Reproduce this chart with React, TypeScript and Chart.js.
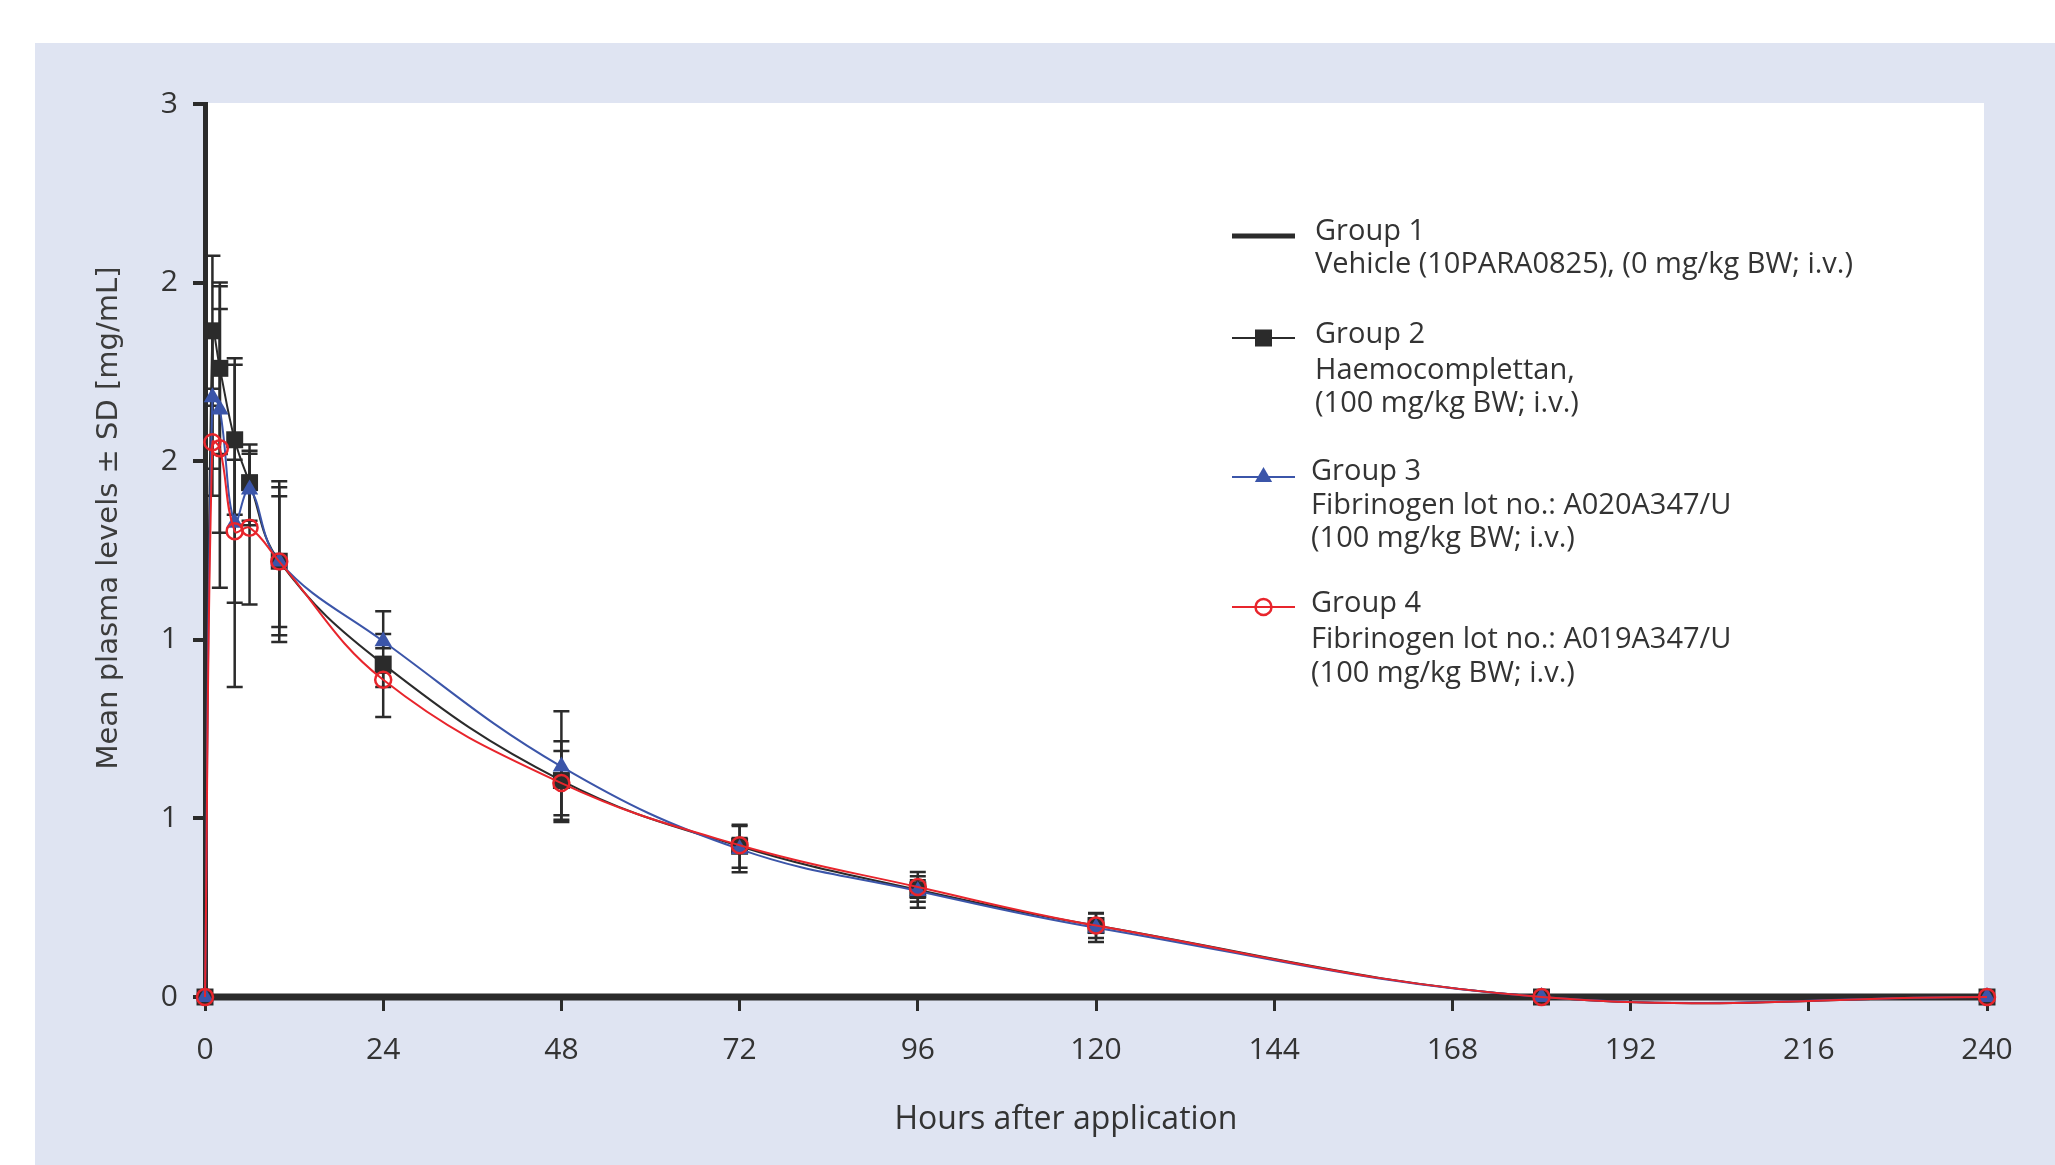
import React, { useEffect, useRef } from 'react';
import { Chart, registerables } from 'chart.js';

Chart.register(...registerables);

// ---- data ----
const hours = [0, 1, 2, 4, 6, 10, 24, 48, 72, 96, 120, 180, 240];
const group1 = [0, 0, 0, 0, 0, 0, 0, 0, 0, 0, 0, 0, 0];
const group2 = [0, 1.865, 1.76, 1.56, 1.44, 1.22, 0.932, 0.606, 0.422, 0.3, 0.2, 0, 0];
const group3 = [0, 1.679, 1.645, 1.328, 1.421, 1.219, 0.996, 0.645, 0.414, 0.297, 0.194, 0, 0];
const group4 = [0, 1.553, 1.536, 1.304, 1.314, 1.219, 0.888, 0.599, 0.425, 0.308, 0.2, 0, 0];
const sd2 = [0, 0.21, 0.24, 0.21, 0.107, 0.207, 0.148, 0.11, 0.06, 0.05, 0.035, 0, 0];
const sd3 = [0, 0.2, 0.345, 0.46, 0.1, 0.225, 0.02, 0.155, 0.065, 0.03, 0.04, 0, 0];
const sd4 = [0, 0.15, 0.39, 0.2, 0.215, 0.183, 0.02, 0.09, 0.02, 0.03, 0.02, 0, 0];

const xTickStep = 24;
const yTickStep = 0.5;
const xTitle = 'Hours after application';
const yTitle = 'Mean plasma levels \u00b1 SD [mg/mL]';

const legendEntries = [
  ['Group 1', 'Vehicle (10PARA0825), (0 mg/kg BW; i.v.)'],
  ['Group 2', 'Haemocomplettan,', '(100 mg/kg BW; i.v.)'],
  ['Group 3', 'Fibrinogen lot no.: A020A347/U', '(100 mg/kg BW; i.v.)'],
  ['Group 4', 'Fibrinogen lot no.: A019A347/U', '(100 mg/kg BW; i.v.)'],
];

// ---- styles ----
const BLACK = '#2b2b2b';
const BLUE = '#3b55a9';
const RED = '#e8252c';
const TEXT = '#333333';
const PANEL = '#dfe4f2';
const FONT = "'Open Sans', 'Noto Sans', sans-serif";

const toPoints = (vals: number[]) => hours.map((h, i) => ({ x: h, y: vals[i] }));

const panelPlugin = {
  id: 'panelBg',
  beforeDraw(chart: any) {
    const { ctx, chartArea: a, width, height } = chart;
    ctx.save();
    ctx.fillStyle = '#ffffff';
    ctx.fillRect(0, 0, width, height);
    ctx.fillStyle = PANEL;
    ctx.fillRect(35, 43, width - 35, height - 43);
    ctx.fillStyle = '#ffffff';
    ctx.fillRect(a.left, a.top - 1, a.right - a.left - 3, a.bottom - a.top + 1);
    ctx.restore();
  },
};

const errorBarPlugin = {
  id: 'errorBars',
  beforeDatasetsDraw(chart: any) {
    const { ctx } = chart;
    const xs = chart.scales.x;
    const ys = chart.scales.y;
    const sets: [number[], number[]][] = [
      [group2, sd2],
      [group3, sd3],
      [group4, sd4],
    ];
    ctx.save();
    ctx.strokeStyle = BLACK;
    ctx.lineWidth = 2.5;
    const cap = 8;
    sets.forEach(([vals, sds]) => {
      vals.forEach((v, i) => {
        const sd = sds[i];
        if (!sd) return;
        const x = xs.getPixelForValue(hours[i]);
        const yt = ys.getPixelForValue(v + sd);
        const yb = ys.getPixelForValue(v - sd);
        ctx.beginPath();
        ctx.moveTo(x, yt);
        ctx.lineTo(x, yb);
        ctx.moveTo(x - cap, yt);
        ctx.lineTo(x + cap, yt);
        ctx.moveTo(x - cap, yb);
        ctx.lineTo(x + cap, yb);
        ctx.stroke();
      });
    });
    ctx.restore();
  },
};

function drawMarker(ctx: CanvasRenderingContext2D, kind: string, x: number, y: number) {
  ctx.save();
  if (kind === 'rect') {
    ctx.fillStyle = BLACK;
    ctx.fillRect(x - 8.5, y - 8.5, 17, 17);
  } else if (kind === 'triangle') {
    const r = 10;
    ctx.fillStyle = BLUE;
    ctx.beginPath();
    ctx.moveTo(x, y - r);
    ctx.lineTo(x + r * 0.866, y + r / 2);
    ctx.lineTo(x - r * 0.866, y + r / 2);
    ctx.closePath();
    ctx.fill();
  } else if (kind === 'circle') {
    ctx.strokeStyle = RED;
    ctx.lineWidth = 2.5;
    ctx.beginPath();
    ctx.arc(x, y, 8, 0, Math.PI * 2);
    ctx.stroke();
  }
  ctx.restore();
}

const textPlugin = {
  id: 'texts',
  afterDraw(chart: any) {
    const { ctx } = chart;
    ctx.save();
    // axis titles
    ctx.fillStyle = TEXT;
    ctx.textAlign = 'center';
    ctx.textBaseline = 'middle';
    ctx.font = `32px ${FONT}`;
    ctx.fillText(xTitle, 1066, 1120);
    ctx.save();
    ctx.translate(109, 518);
    ctx.rotate(-Math.PI / 2);
    ctx.font = "29px 'DejaVu Sans', sans-serif";
    ctx.fillStyle = '#3c3c3c';
    ctx.fillText(yTitle, 0, 0);
    ctx.restore();

    // legend
    const lineYs = [236, 338, 477, 607];
    const textX = [1315, 1315, 1311, 1311];
    const textYs = [
      [232, 265],
      [335, 371, 404],
      [472, 506, 539],
      [604, 640, 674],
    ];
    const colors = [BLACK, BLACK, BLUE, RED];
    const widths = [5, 2, 2, 2];
    const markers = ['', 'rect', 'triangle', 'circle'];
    legendEntries.forEach((lines, i) => {
      ctx.strokeStyle = colors[i];
      ctx.lineWidth = widths[i];
      ctx.beginPath();
      ctx.moveTo(1232, lineYs[i]);
      ctx.lineTo(1295, lineYs[i]);
      ctx.stroke();
      if (markers[i]) drawMarker(ctx, markers[i], 1263.5, lineYs[i]);
      ctx.fillStyle = TEXT;
      ctx.font = `29px ${FONT}`;
      ctx.textAlign = 'left';
      ctx.textBaseline = 'middle';
      lines.forEach((t, j) => ctx.fillText(t, textX[i], textYs[i][j]));
    });
    ctx.restore();
  },
};

export default function App() {
  const ref = useRef<HTMLCanvasElement>(null);
  useEffect(() => {
    const canvas = ref.current;
    if (!canvas) return;
    const chart = new Chart(canvas, {
      type: 'line',
      data: {
        datasets: [
          {
            label: 'Group 1',
            data: toPoints(group1),
            borderColor: BLACK,
            borderWidth: 7,
            pointRadius: 0,
            tension: 0,
            order: 4,
            clip: false,
          },
          {
            label: 'Group 2',
            data: toPoints(group2),
            borderColor: BLACK,
            backgroundColor: BLACK,
            borderWidth: 2,
            pointStyle: 'rect',
            pointRadius: 12,
            pointBackgroundColor: BLACK,
            pointBorderColor: BLACK,
            pointBorderWidth: 0,
            tension: 0.4,
            order: 3,
            clip: false,
          },
          {
            label: 'Group 3',
            data: toPoints(group3),
            borderColor: BLUE,
            backgroundColor: BLUE,
            borderWidth: 2,
            pointStyle: 'triangle',
            pointRadius: 10,
            pointBackgroundColor: BLUE,
            pointBorderColor: BLUE,
            pointBorderWidth: 0,
            tension: 0.4,
            order: 2,
            clip: false,
          },
          {
            label: 'Group 4',
            data: toPoints(group4),
            borderColor: RED,
            backgroundColor: 'rgba(0,0,0,0)',
            borderWidth: 2,
            pointStyle: 'circle',
            pointRadius: 8,
            pointBackgroundColor: 'rgba(0,0,0,0)',
            pointBorderColor: RED,
            pointBorderWidth: 2.5,
            tension: 0.4,
            order: 1,
            clip: false,
          },
        ],
      },
      options: {
        responsive: false,
        animation: false,
        devicePixelRatio: 1,
        layout: { padding: { left: 0, top: 104, right: 68, bottom: 0 } },
        elements: { line: { capBezierPoints: false } },
        plugins: {
          legend: { display: false },
          tooltip: { enabled: false },
        },
        scales: {
          x: {
            type: 'linear',
            min: 0,
            max: 240,
            afterFit: (s: any) => {
              s.height = 168;
            },
            ticks: {
              stepSize: xTickStep,
              autoSkip: false,
              maxRotation: 0,
              padding: 21,
              color: TEXT,
              font: { family: FONT, size: 30 },
            },
            grid: {
              drawOnChartArea: false,
              tickLength: 14,
              tickWidth: 3,
              lineWidth: 3,
              tickColor: BLACK,
              color: BLACK,
            },
            border: { color: BLACK, width: 4 },
          },
          y: {
            type: 'linear',
            min: 0,
            max: 2.5,
            afterFit: (s: any) => {
              s.width = 205;
            },
            ticks: {
              stepSize: yTickStep,
              padding: 15,
              color: TEXT,
              font: { family: FONT, size: 30 },
              callback: (v: any) => String(Math.round(Number(v))),
            },
            grid: {
              drawOnChartArea: false,
              tickLength: 12,
              tickWidth: 4,
              lineWidth: 4,
              tickColor: BLACK,
              color: BLACK,
            },
            border: { color: BLACK, width: 5 },
          },
        },
      },
      plugins: [panelPlugin, errorBarPlugin, textPlugin],
    } as any);
    return () => chart.destroy();
  }, []);
  return (
    <div style={{ position: 'fixed', left: 0, top: 0, width: 2055, height: 1165 }}>
      <canvas ref={ref} width={2055} height={1165} style={{ display: 'block' }} />
    </div>
  );
}
